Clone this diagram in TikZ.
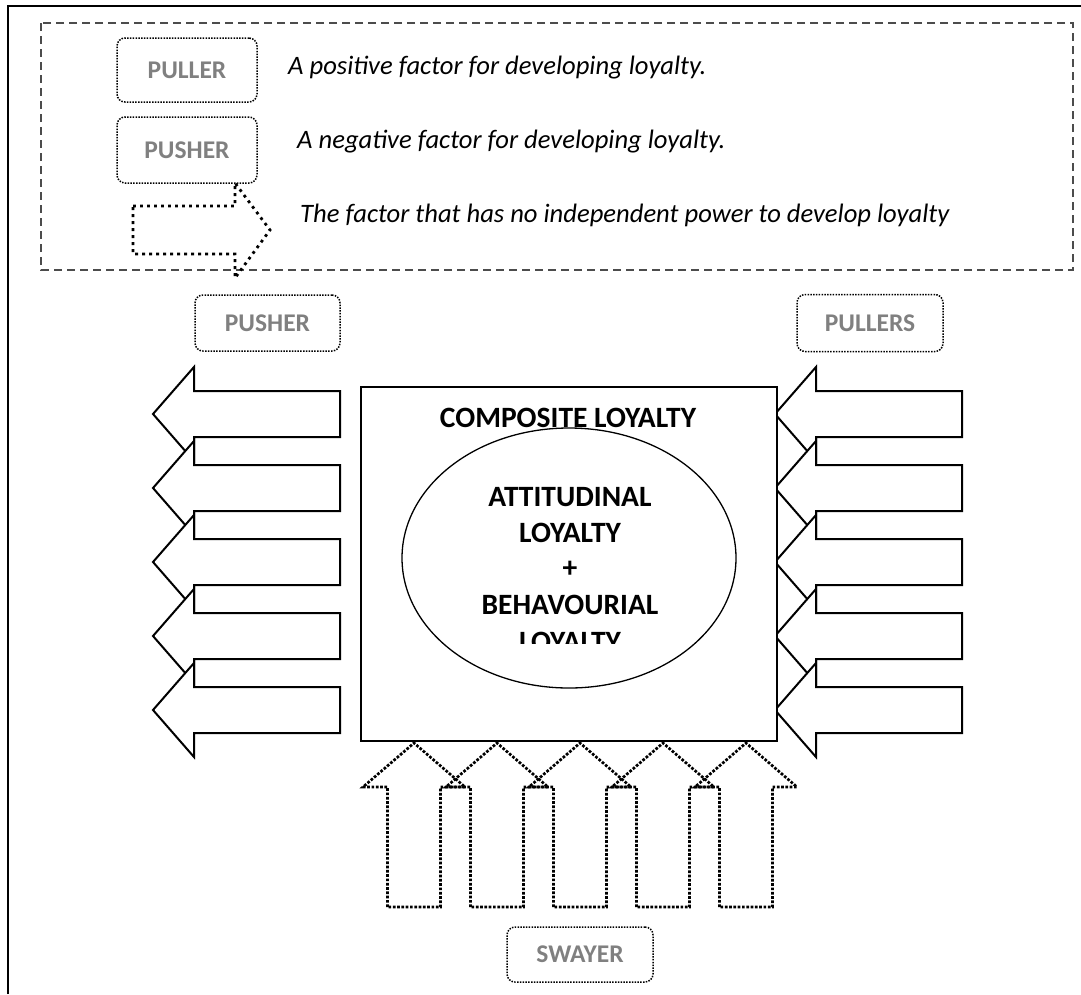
\documentclass[tikz,border=0pt]{standalone}
\usepackage{fontspec}
\setmainfont{Carlito}
\usetikzlibrary{shapes.geometric}
\begin{document}
\begin{tikzpicture}[x=1pt,y=-1pt,
  lbl/.style={draw=black, line width=1.5pt, dash pattern=on 1.5pt off 1.3pt, rounded corners=8pt, text=black!50, font=\bfseries\fontsize{25.5}{30}\selectfont, inner sep=0pt},
  legtxt/.style={font=\itshape\fontsize{26.6}{30}\selectfont, anchor=base west, inner sep=0pt},
  solidarrow/.style={draw=black, line width=2pt, fill=white, line join=miter},
  dotarrow/.style={draw=black, line width=2.7pt, dash pattern=on 2.7pt off 1.6pt},
  legarrow/.style={draw=black, line width=2.8pt, dash pattern=on 2.8pt off 4.2pt},
  bigtxt/.style={font=\bfseries\fontsize{29.5}{35}\selectfont, inner sep=0pt},
  legbox/.style={draw=black!70, line width=1.4pt, dash pattern=on 8pt off 5pt},
  frame/.style={draw=black, line width=2.5pt}
]
\useasboundingbox (0,0) rectangle (1081,994);
% outer frame
\draw[frame] (8,994) -- (8,6) -- (1081,6);
% legend
\draw[legbox] (41,23) rectangle (1073,270);
\node[lbl, minimum width=140pt, minimum height=64pt] (lpuller) at (187,70) {PULLER};
\node[lbl, minimum width=140pt, minimum height=66pt] (lpusher) at (187,150) {PUSHER};
\draw[legarrow] (133,206) -- (235,206) -- (235,183) -- (270,230) -- (235,278) -- (235,254) -- (133,254) -- cycle;
\node[legtxt] (tpos) at (288,74) {A positive factor for developing loyalty.};
\node[legtxt] (tneg) at (297,148) {A negative factor for developing loyalty.};
\node[legtxt] (tsway) at (300,222) {The factor that has no independent power to develop loyalty};
% top labels
\node[lbl, minimum width=145pt, minimum height=56pt] (pusher) at (267.5,323) {PUSHER};
\node[lbl, minimum width=146pt, minimum height=57pt] (pullers) at (870,323) {PULLERS};
% left arrows (pushers)
\foreach \i in {0,...,4}{
  \pgfmathsetmacro\cy{414+74*\i}
  \draw[solidarrow] (340,\cy-23) -- (194,\cy-23) -- (194,\cy-47) -- (153,\cy) -- (194,\cy+47) -- (194,\cy+23) -- (340,\cy+23) -- cycle;
}
% right arrows (pullers)
\foreach \i in {0,...,4}{
  \pgfmathsetmacro\cy{414+74*\i}
  \draw[solidarrow] (962,\cy-23) -- (816,\cy-23) -- (816,\cy-47) -- (775,\cy) -- (816,\cy+47) -- (816,\cy+23) -- (962,\cy+23) -- cycle;
}
% central box
\node[draw=black, line width=2pt, fill=white, minimum width=416pt, minimum height=354pt, inner sep=0pt] (box) at (569,564) {};
\node[bigtxt] (comp) at (568,417.5) {COMPOSITE LOYALTY};
\node[draw=black, line width=1.3pt, ellipse, minimum width=334pt, minimum height=260pt, inner sep=0pt] (ell) at (569,558) {};
\node[bigtxt] (t1) at (570,497) {ATTITUDINAL};
\node[bigtxt] (t2) at (570,532.5) {LOYALTY};
\node[bigtxt] (t3) at (570,569) {+};
\node[bigtxt] (t4) at (570,604.5) {BEHAVOURIAL};
\begin{scope}
  \clip (400,620) rectangle (740,643);
  \node[bigtxt, anchor=north] (t5) at (570,632) {LOYALTY};
\end{scope}
% bottom dotted arrows (swayers)
\foreach \i in {0,...,4}{
  \pgfmathsetmacro\cx{414+83*\i}
  \draw[dotarrow] (\cx-26.5,907) -- (\cx-26.5,787) -- (\cx-51,787) -- (\cx,743) -- (\cx+51,787) -- (\cx+26.5,787) -- (\cx+26.5,907) -- cycle;
}
\node[lbl, minimum width=146pt, minimum height=55pt] (swayer) at (580,954.5) {SWAYER};
\end{tikzpicture}
\end{document}
